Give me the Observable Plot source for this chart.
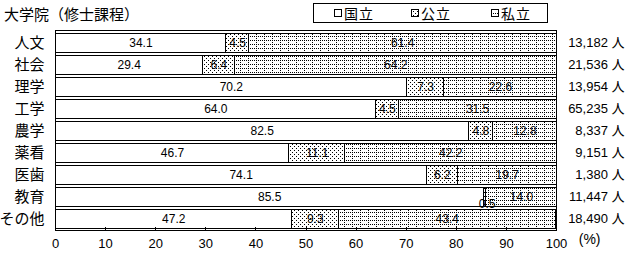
<!DOCTYPE html>
<html>
<head>
<meta charset="utf-8">
<script src="https://cdn.jsdelivr.net/npm/d3@7"></script>
<script src="https://cdn.jsdelivr.net/npm/@observablehq/plot@0.6"></script>
<style>
  body { margin: 0; background: #fff; width: 629px; height: 259px; overflow: hidden;
         font-family: "Noto Sans CJK JP", sans-serif; color: #000; }
  #head { position: relative; height: 28px; }
  #title { position: absolute; left: 4px; top: 4px; font-size: 15px; line-height: 20px; white-space: nowrap; }
  #legend { position: absolute; left: 313px; top: 3px; width: 233px; height: 18px; border: 1px solid #000; }
  .item { position: absolute; top: 0; height: 18px; font-size: 14px; line-height: 18px;
          display: flex; align-items: center; letter-spacing: 1px; white-space: nowrap; }
  .item svg { margin-right: 2px; }
  #chart svg { display: block; }
</style>
</head>
<body>
<!-- shared fill patterns for the bars and the legend swatches -->
<svg width="0" height="0" style="position:absolute">
  <defs>
    <pattern id="pat-pub" width="4" height="4" patternUnits="userSpaceOnUse">
      <rect width="4" height="4" fill="#fff"/>
      <rect x="0" y="0" width="1" height="1" fill="#000"/>
      <rect x="2" y="2" width="1" height="1" fill="#000"/>
    </pattern>
    <pattern id="pat-pri" width="8" height="4" patternUnits="userSpaceOnUse">
      <rect width="8" height="4" fill="#fff"/>
      <rect x="0" y="0" width="1" height="1" fill="#000"/>
      <rect x="2" y="0" width="1" height="1" fill="#000"/>
      <rect x="4" y="0" width="1" height="1" fill="#000"/>
      <rect x="6" y="0" width="1" height="1" fill="#000"/>
      <rect x="0" y="2" width="1" height="1" fill="#000"/>
    </pattern>
  </defs>
</svg>

<div id="head">
  <div id="title">大学院（修士課程）</div>
  <div id="legend"></div>
</div>
<div id="chart"></div>

<script>
// Graduate school (master's course) enrolment share by founder, per field
const categories = ["人文", "社会", "理学", "工学", "農学", "薬看", "医歯", "教育", "その他"];
const types = ["国立", "公立", "私立"];
const nationalShare = [34.1, 29.4, 70.2, 64.0, 82.5, 46.7, 74.1, 85.5, 47.2];
const publicShare   = [4.5, 6.4, 7.3, 4.5, 4.8, 11.1, 6.2, 0.5, 9.3];
const privateShare  = [61.4, 64.2, 22.6, 31.5, 12.8, 42.2, 19.7, 14.0, 43.4];
const totals = [13182, 21536, 13954, 65235, 8337, 9151, 1380, 11447, 18490];
const xTicks = [0, 10, 20, 30, 40, 50, 60, 70, 80, 90, 100];

const fills = ["#fff", "url(#pat-pub)", "url(#pat-pri)"];
const numFont = '"Liberation Sans Narrow", "Liberation Sans", "Noto Sans CJK JP", sans-serif';
const cjkFont = '"Noto Sans CJK JP", sans-serif';

const series = [nationalShare, publicShare, privateShare];
const rows = categories.flatMap((category, i) =>
  types.map((type, j) => ({category, type, value: series[j][i]}))
);
const totalRows = categories.map((category, i) => ({category, total: totals[i]}));

// legend
const legend = document.getElementById("legend");
const legendLeft = [20, 97, 177];
types.forEach((t, j) => {
  const item = document.createElement("div");
  item.className = "item";
  item.style.left = legendLeft[j] + "px";
  item.innerHTML = `<svg width="8" height="8"><rect x="0.5" y="0.5" width="7" height="7" fill="${fills[j]}" stroke="#000"/></svg>${t}`;
  legend.appendChild(item);
});

const chart = Plot.plot({
  width: 629,
  height: 231,
  marginTop: 2,
  marginBottom: 29,
  marginLeft: 55,
  marginRight: 73,
  style: {fontFamily: numFont, fontSize: "12px", color: "#000", background: "#fff"},
  x: {domain: [0, 100]},
  y: {domain: categories, paddingInner: 0.14, paddingOuter: 0.09},
  color: {domain: types, range: fills},
  marks: [
    Plot.barX(rows, Plot.stackX({
      x: "value", y: "category", fill: "type",
      stroke: "#000", strokeWidth: 1, shapeRendering: "crispEdges"
    })),
    Plot.text(rows, Plot.stackX({
      x: "value", y: "category", z: "type",
      text: d => d.value >= 1 ? d.value.toFixed(1) : "",
      fontFamily: numFont, fontSize: 12
    })),
    // the thin segment gets its label just under the bar
    Plot.text(rows, Plot.stackX({
      x: "value", y: "category", z: "type",
      text: d => d.value < 1 ? d.value.toFixed(1) : "",
      fontFamily: numFont, fontSize: 12, dy: 7, dx: 2
    })),
    Plot.text(totalRows, {
      y: "category", frameAnchor: "right", textAnchor: "end", dx: 68,
      text: d => d3.format(",")(d.total) + " 人",
      fontFamily: numFont, fontSize: 13
    }),
    Plot.frame({stroke: "#000", shapeRendering: "crispEdges"}),
    Plot.tickX(xTicks, {x: d => d, insetTop: 197, stroke: "#000", shapeRendering: "crispEdges"}),
    Plot.axisX({ticks: xTicks, tickSize: 0, tickPadding: 8, fontSize: 13, fontFamily: numFont, label: null}),
    Plot.axisY({tickSize: 0, tickPadding: 11, fontSize: 15, fontFamily: cjkFont, label: null}),
    Plot.text(["(%)"], {frameAnchor: "bottom-right", dx: 44, dy: 13, fontSize: 14, fontFamily: '"Liberation Sans", sans-serif'})
  ]
});
document.getElementById("chart").appendChild(chart);
</script>
</body>
</html>
